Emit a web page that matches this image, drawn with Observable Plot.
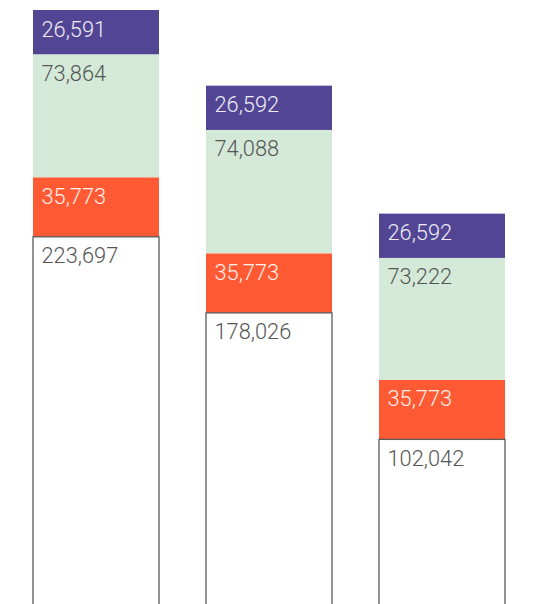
<!DOCTYPE html>
<html>
<head>
<meta charset="utf-8">
<script src="https://cdn.jsdelivr.net/npm/d3@7"></script>
<script src="https://cdn.jsdelivr.net/npm/@observablehq/plot@0.6"></script>
<style>
  html, body { margin: 0; padding: 0; background: #ffffff; overflow: hidden; }
  #chart svg { display: block; }
</style>
</head>
<body>
<div id="chart"></div>
<script>
const bars = ["Bar 1", "Bar 2", "Bar 3"];
const baseValues = [223697, 178026, 102042];
const orangeValues = [35773, 35773, 35773];
const greenValues = [73864, 74088, 73222];
const purpleValues = [26591, 26592, 26592];
const segmentNames = ["base", "orange", "green", "purple"];
const segmentColors = ["#ffffff", "#ff5a33", "#d4e9d8", "#524594"];
const labelColors = ["#555555", "#fff1ec", "#555555", "#eeecf6"];

const seriesValues = [baseValues, orangeValues, greenValues, purpleValues];
const rows = [];
bars.forEach((bar, i) => {
  let acc = 0;
  segmentNames.forEach((seg, j) => {
    const v = seriesValues[j][i];
    rows.push({bar, segment: seg, value: v, y1: acc, y2: acc + v, labelColor: labelColors[j]});
    acc += v;
  });
});
const maxTotal = d3.max(bars, (b, i) => d3.sum(seriesValues, s => s[i]));
const fmt = d3.format(",");

const textMarks = segmentNames.map((seg, j) =>
  Plot.text(rows.filter(d => d.segment === seg), {
    x: "bar", y: "y2", text: d => fmt(d.value),
    textAnchor: "start", lineAnchor: "bottom", dx: -55, dy: 26,
    fill: labelColors[j], fontSize: 21.8, fontWeight: 300,
    fontFamily: "Roboto, 'Liberation Sans', sans-serif"
  })
);

const chart = Plot.plot({
  width: 558,
  height: 604,
  marginLeft: 0,
  marginRight: 20,
  marginTop: 10,
  marginBottom: 0,
  x: {domain: bars, paddingInner: 0.272, paddingOuter: 0.19, axis: null},
  y: {domain: [0, maxTotal], range: [609.3, 10], axis: null},
  color: {domain: segmentNames, range: segmentColors},
  marks: [
    Plot.barY(rows, {x: "bar", y1: "y1", y2: "y2", fill: "segment"}),
    Plot.barY(rows.filter(d => d.segment === "base"), {x: "bar", y1: "y1", y2: "y2", fill: "none", stroke: "#5a5a5a", strokeWidth: 1.3}),
    ...textMarks
  ]
});
document.getElementById("chart").appendChild(chart);
</script>
</body>
</html>
